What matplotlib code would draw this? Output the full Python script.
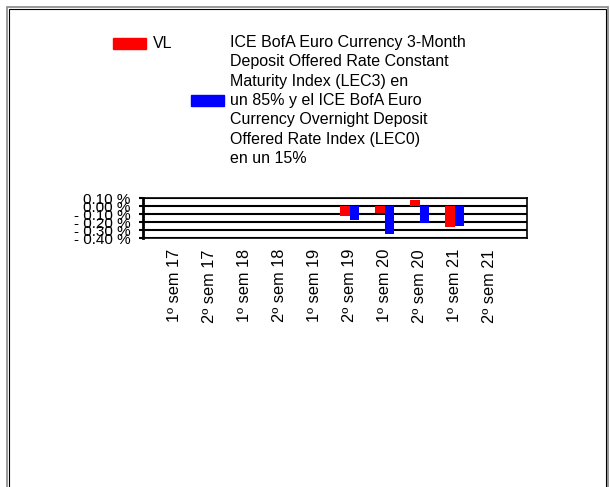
import numpy as np
import matplotlib
matplotlib.use("Agg")
import matplotlib.pyplot as plt
from matplotlib.patches import Rectangle

plt.rcParams['font.family'] = ['Liberation Sans', 'DejaVu Sans']

# data
periods = ["1º sem 17", "2º sem 17", "1º sem 18", "2º sem 18", "1º sem 19",
           "2º sem 19", "1º sem 20", "2º sem 20", "1º sem 21", "2º sem 21"]
vl = [np.nan, np.nan, np.nan, np.nan, np.nan, -0.12, -0.09, 0.07, -0.26, np.nan]
bench = [np.nan, np.nan, np.nan, np.nan, np.nan, -0.17, -0.35, -0.21, -0.255, np.nan]
yticks = [0.10, 0.00, -0.10, -0.20, -0.30, -0.40]
ytick_labels = ["0.10 %", "0.00 %", "- 0.10 %", "- 0.20 %", "- 0.30 %", "- 0.40 %"]
vl_name = "VL"
bench_name = ("ICE BofA Euro Currency 3-Month\nDeposit Offered Rate Constant\n"
              "Maturity Index (LEC3) en\nun 85% y el ICE BofA Euro\n"
              "Currency Overnight Deposit\nOffered Rate Index (LEC0)\nen un 15%")

fig = plt.figure(figsize=(6.1, 4.87), dpi=100)

# outer double frame
fig.add_artist(Rectangle((7 / 610, -0.01), 601 / 610, 1 - 7 / 487 + 0.01,
                         transform=fig.transFigure, fill=False,
                         edgecolor='#888888', lw=1.2))
fig.add_artist(Rectangle((9 / 610, -0.01), 597 / 610, 1 - 9 / 487 + 0.01,
                         transform=fig.transFigure, fill=False,
                         edgecolor='black', lw=0.8))

ax = fig.add_axes([143 / 610, 249 / 487, 384 / 610, 40 / 487])
x = np.arange(len(periods))
w = 0.27
ax.bar(x - w / 2, vl, w, color='#ff0000', zorder=3)
ax.bar(x + w / 2, bench, w, color='#0000ff', zorder=3)

ax.set_xlim(-0.91, 10.06)
ax.set_ylim(-0.40, 0.10)
ax.set_yticks(yticks)
ax.set_yticklabels(ytick_labels, fontsize=11)
ax.set_xticks(x)
ax.set_xticklabels(periods, rotation=90, fontsize=11.8, va='top')
ax.tick_params(axis='x', length=0, pad=8)
ax.tick_params(axis='y', length=3, width=1.5, pad=6)
ax.grid(axis='y', color='black', lw=1.5, zorder=1)
for s in ax.spines.values():
    s.set_linewidth(1.2)
ax.spines['left'].set_linewidth(2)

# legend
fig.add_artist(Rectangle((113 / 610, 1 - 49 / 487), 33 / 610, 11 / 487,
                         transform=fig.transFigure, color='#ff0000'))
fig.text(153 / 610, 1 - 43 / 487, vl_name, fontsize=11.5, va='center')
fig.add_artist(Rectangle((191 / 610, 1 - 106 / 487), 33 / 610, 11 / 487,
                         transform=fig.transFigure, color='#0000ff'))
fig.text(230 / 610, 1 - 35 / 487, bench_name, fontsize=11.5, va='top',
         linespacing=1.36)

fig.savefig("out.png", dpi=100)
